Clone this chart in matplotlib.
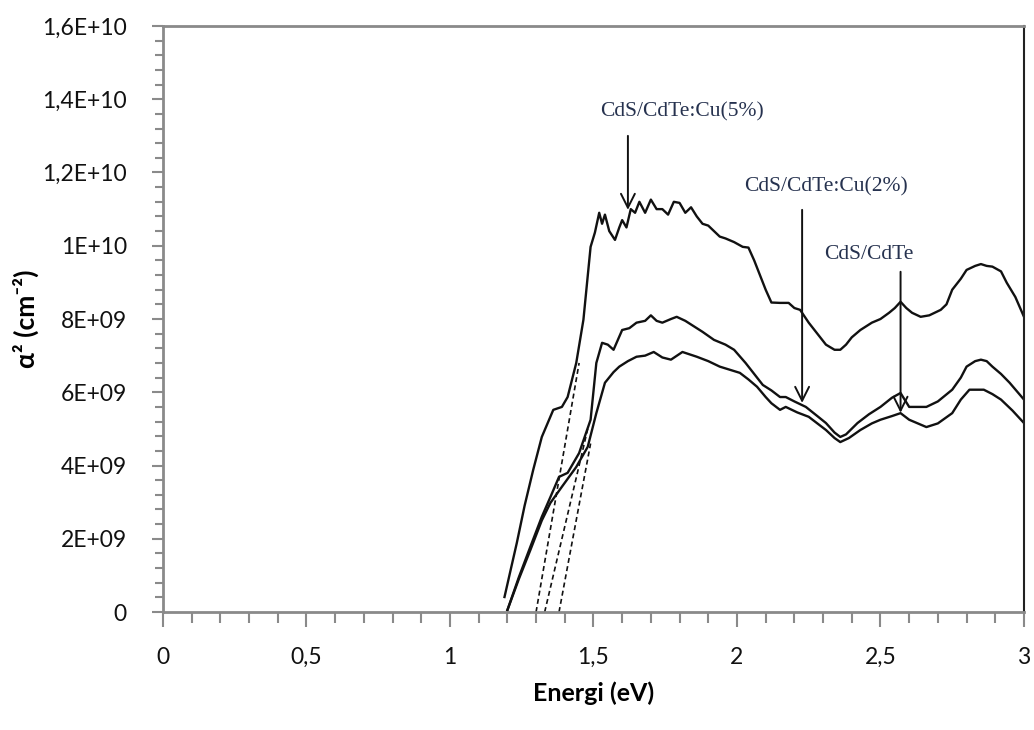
import numpy as np
import matplotlib.pyplot as plt
from matplotlib.ticker import MultipleLocator, FuncFormatter

# photon energy (eV) and alpha^2 (in units of 1E9 cm^-2)
e_cu5 = [1.19, 1.21, 1.233, 1.26, 1.29, 1.32, 1.36, 1.39, 1.41, 1.44, 1.465, 1.49, 1.505,
         1.52, 1.53, 1.54, 1.555, 1.575, 1.59, 1.60, 1.615, 1.63, 1.645, 1.66, 1.68, 1.70,
         1.72, 1.74, 1.76, 1.78, 1.80, 1.82, 1.84, 1.86, 1.88, 1.90, 1.92, 1.94, 1.96, 1.99,
         2.02, 2.04, 2.06, 2.08, 2.10, 2.12, 2.15, 2.18, 2.20, 2.22, 2.25, 2.28, 2.31, 2.34,
         2.36, 2.38, 2.40, 2.43, 2.47, 2.50, 2.53, 2.55, 2.57, 2.59, 2.61, 2.64, 2.67, 2.71,
         2.73, 2.75, 2.78, 2.80, 2.83, 2.85, 2.87, 2.89, 2.92, 2.94, 2.97, 3.0]
a_cu5 = [0.41, 1.1, 1.89, 2.9, 3.88, 4.78, 5.52, 5.6, 5.87, 6.8, 7.98, 9.97, 10.36,
         10.9, 10.6, 10.85, 10.4, 10.16, 10.5, 10.7, 10.5, 11.0, 10.9, 11.2, 10.9, 11.26,
         11.0, 11.0, 10.85, 11.2, 11.17, 10.9, 11.05, 10.8, 10.6, 10.55, 10.4, 10.25, 10.2, 10.1,
         9.97, 9.95, 9.6, 9.2, 8.8, 8.45, 8.44, 8.44, 8.3, 8.25, 7.9, 7.6, 7.3, 7.16,
         7.16, 7.3, 7.5, 7.7, 7.9, 8.0, 8.17, 8.3, 8.47, 8.3, 8.17, 8.06, 8.1, 8.25,
         8.4, 8.8, 9.1, 9.34, 9.45, 9.5, 9.45, 9.43, 9.3, 8.99, 8.6, 8.06]

e_cu2 = [1.20, 1.24, 1.28, 1.32, 1.35, 1.38, 1.41, 1.45, 1.49, 1.51, 1.53, 1.55, 1.57,
         1.60, 1.625, 1.65, 1.68, 1.70, 1.72, 1.74, 1.77, 1.79, 1.82, 1.85, 1.88, 1.92,
         1.96, 1.99, 2.03, 2.06, 2.09, 2.12, 2.15, 2.17, 2.20, 2.24, 2.28, 2.31, 2.34, 2.36,
         2.38, 2.42, 2.46, 2.50, 2.54, 2.57, 2.60, 2.63, 2.66, 2.70, 2.75, 2.78, 2.80, 2.83,
         2.85, 2.87, 2.89, 2.92, 2.95, 3.0]
a_cu2 = [0.05, 0.95, 1.78, 2.6, 3.14, 3.69, 3.8, 4.34, 5.25, 6.8, 7.35, 7.3, 7.16,
         7.7, 7.75, 7.9, 7.95, 8.1, 7.95, 7.9, 8.0, 8.06, 7.95, 7.8, 7.65, 7.43,
         7.3, 7.16, 6.8, 6.5, 6.2, 6.05, 5.87, 5.87, 5.75, 5.6, 5.35, 5.16, 4.9, 4.78,
         4.85, 5.16, 5.4, 5.6, 5.85, 5.98, 5.6, 5.6, 5.6, 5.75, 6.07, 6.4, 6.7, 6.85,
         6.89, 6.85, 6.7, 6.5, 6.26, 5.8]

e_cds = [1.20, 1.24, 1.28, 1.32, 1.35, 1.39, 1.44, 1.48, 1.51, 1.54, 1.57, 1.59, 1.62,
         1.65, 1.68, 1.71, 1.74, 1.77, 1.81, 1.86, 1.90, 1.94, 2.01, 2.04, 2.07, 2.10,
         2.12, 2.15, 2.17, 2.21, 2.25, 2.28, 2.31, 2.34, 2.36, 2.39, 2.43, 2.47, 2.50,
         2.54, 2.57, 2.60, 2.63, 2.66, 2.70, 2.75, 2.78, 2.81, 2.84, 2.86, 2.89, 2.92,
         2.96, 3.0]
a_cds = [0.05, 0.9, 1.69, 2.5, 2.98, 3.42, 3.96, 4.51, 5.43, 6.26, 6.55, 6.7, 6.85,
         6.97, 7.0, 7.1, 6.95, 6.89, 7.1, 6.97, 6.85, 6.7, 6.53, 6.35, 6.15, 5.87,
         5.7, 5.52, 5.6, 5.45, 5.33, 5.15, 4.97, 4.75, 4.64, 4.75, 4.97, 5.15, 5.25,
         5.35, 5.43, 5.25, 5.15, 5.05, 5.15, 5.43, 5.8, 6.07, 6.07, 6.07, 5.95, 5.8,
         5.5, 5.16]

# tangent lines (band gap extrapolation): (E_start, E_end), (a_start, a_end)
fit_e = [(1.30, 1.45), (1.33, 1.48), (1.38, 1.49)]
fit_a = [(0.0, 6.8), (0.0, 5.0), (0.0, 4.6)]

# labels with arrow: text pos (E, a), arrow start, arrow tip
labels = ["CdS/CdTe:Cu(5%)", "CdS/CdTe:Cu(2%)", "CdS/CdTe"]
label_xy = [(1.81, 13.66), (2.31, 11.6), (2.46, 9.75)]
arrow_from = [(1.62, 13.0), (2.227, 10.98), (2.57, 9.29)]
arrow_to = [(1.62, 10.98), (2.227, 5.71), (2.57, 5.44)]

fig = plt.figure(figsize=(10.34, 7.3), dpi=100)
ax = fig.add_axes([0.1576, 0.1616, 0.8327, 0.8028])

for e, a in [(e_cu5, a_cu5), (e_cu2, a_cu2), (e_cds, a_cds)]:
    ax.plot(e, np.array(a) * 1e9, color='#111111', lw=1.7)

for e, a in zip(fit_e, fit_a):
    ax.plot(e, np.array(a) * 1e9, color='#111111', lw=1.2, ls=(0, (3, 2)))

for t, xy, p0, p1 in zip(labels, label_xy, arrow_from, arrow_to):
    ax.text(xy[0], xy[1] * 1e9, t, ha='center', va='center', fontsize=15.5,
            family='Liberation Serif', color='#26324f')
    ax.annotate('', xy=(p1[0], p1[1] * 1e9), xytext=(p0[0], p0[1] * 1e9),
                arrowprops=dict(arrowstyle='->,head_length=1.0,head_width=0.5',
                                color='#111111', lw=1.4, shrinkA=0, shrinkB=0))

ax.set_xlim(0, 3)
ax.set_ylim(0, 1.6e10)
ax.xaxis.set_major_locator(MultipleLocator(0.5))
ax.xaxis.set_minor_locator(MultipleLocator(0.1))
ax.yaxis.set_major_locator(MultipleLocator(2e9))
ax.yaxis.set_minor_locator(MultipleLocator(4e8))


def xfmt(v, pos):
    s = ('%g' % v).replace('.', ',')
    return s


def yfmt(v, pos):
    if v == 0:
        return '0'
    m, ex = ('%.1E' % v).split('E')
    m = m.rstrip('0').rstrip('.').replace('.', ',')
    return m + 'E+' + '%02d' % int(ex)


ax.xaxis.set_major_formatter(FuncFormatter(xfmt))
ax.yaxis.set_major_formatter(FuncFormatter(yfmt))

grey = '#8a8a8a'
for s in ['left', 'bottom', 'top']:
    ax.spines[s].set_color(grey)
    ax.spines[s].set_linewidth(2)
ax.spines['right'].set_color('#222222')
ax.spines['right'].set_linewidth(1.5)

ax.tick_params(which='both', direction='out', color=grey, width=1.5,
               labelsize=16.5, labelcolor='#111111')
ax.tick_params(axis='x', which='major', length=11, pad=14)
ax.tick_params(axis='x', which='minor', length=8)
ax.tick_params(axis='y', which='major', length=8, pad=18)
ax.tick_params(axis='y', which='minor', length=6)
for lab in ax.get_xticklabels() + ax.get_yticklabels():
    lab.set_family('Lato')

ax.set_xlabel('Energi (eV)', fontsize=18, fontweight='bold', family='Lato', labelpad=10)
ax.set_ylabel('α² (cm⁻²)', fontsize=19, fontweight='bold',
              family=['Lato', 'DejaVu Sans'], labelpad=2)

fig.savefig('out.png', dpi=100)
